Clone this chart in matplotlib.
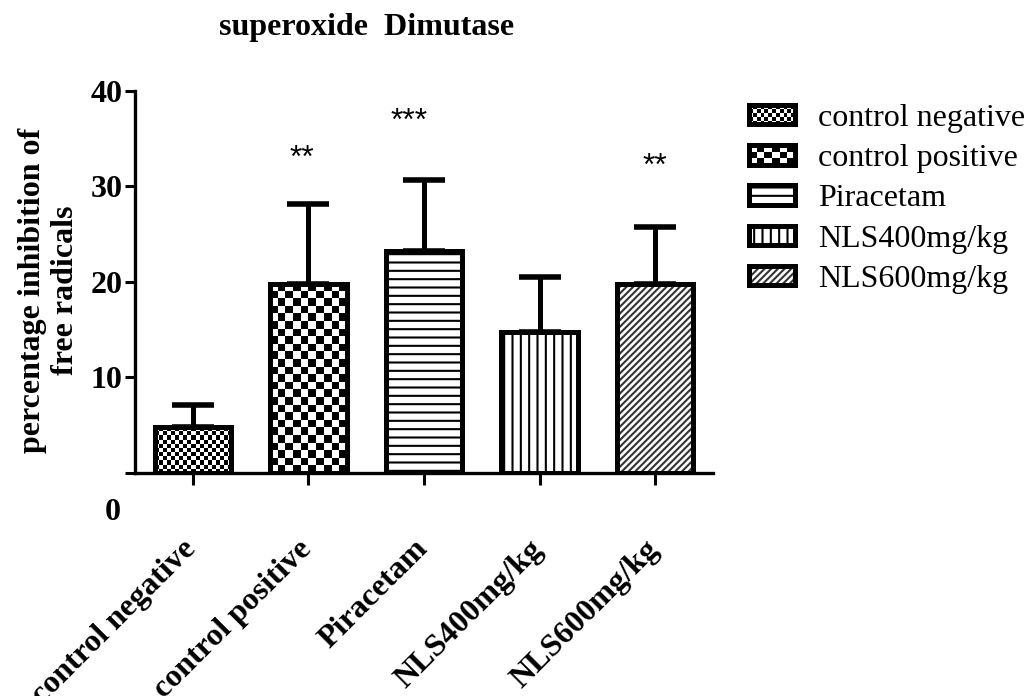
import matplotlib
matplotlib.use("Agg")
import matplotlib.pyplot as plt
import numpy as np
from matplotlib.patches import Rectangle
from matplotlib.legend_handler import HandlerBase
from matplotlib.transforms import ScaledTranslation

plt.rcParams['font.family'] = ['Liberation Serif', 'DejaVu Serif']
plt.rcParams['hatch.linewidth'] = 1.5

# data
groups = ["control negative", "control positive", "Piracetam", "NLS400mg/kg", "NLS600mg/kg"]
means = [4.8, 19.8, 23.2, 14.8, 19.8]
sem = [2.3, 8.3, 7.5, 5.7, 5.9]
stars = ["", "**", "***", "", "**"]
star_y = [0, 32.9, 36.7, 0, 32.0]
star_dx = [0, -0.06, -0.13, 0, 0.0]

# fill pattern per group: (kind, hatch, hatch colour, cell size px)
patterns = [("checker", None, None, 4.0),
            ("checker", None, None, 7.7),
            ("hatch", "--", "black", None),
            ("hatch", "||", "black", None),
            ("hatch", "/////", "#333333", None)]

LW = 3.6
W = 0.66


class PatternHandler(HandlerBase):
    def __init__(self, pat):
        super().__init__()
        self.pat = pat

    def create_artists(self, legend, orig_handle, xdescent, ydescent,
                       width, height, fontsize, trans):
        kind, hatch, hc, cell = self.pat
        x0, y0 = -xdescent, -ydescent
        arts = [Rectangle((x0, y0), width, height, facecolor='white',
                          edgecolor='none', transform=trans)]
        if kind == "checker":
            c = cell * 0.72
            nc = max(2, int(round(width / c)))
            nr = max(2, int(round(height / c)))
            cw, ch = width / nc, height / nr
            for i in range(nr):
                for j in range(nc):
                    if (i + j) % 2:
                        arts.append(Rectangle((x0 + j * cw, y0 + i * ch), cw, ch,
                                              facecolor='black', edgecolor='none',
                                              transform=trans))
        else:
            arts.append(Rectangle((x0, y0), width, height, facecolor='none',
                                  edgecolor=hc, linewidth=0, hatch=hatch,
                                  transform=trans))
        arts.append(Rectangle((x0, y0), width, height, facecolor='none',
                              edgecolor='black', linewidth=LW, transform=trans))
        return arts


fig = plt.figure(figsize=(10.28, 6.96), dpi=100)
ax = fig.add_axes([135 / 1028, 1 - 473 / 696, 578 / 1028, (473 - 90.7) / 696])
ax.set_xlim(-0.5, 4.5)
ax.set_ylim(0, 40)

x = np.arange(len(groups))
base = ax.bar(x, means, width=W, color='white', edgecolor='none', zorder=2)

for i, b in enumerate(base):
    kind, hatch, hc, cell = patterns[i]
    if kind == "checker":
        p0 = ax.transData.transform((x[i] - W / 2, 0))
        p1 = ax.transData.transform((x[i] + W / 2, means[i]))
        nc = int(round((p1[0] - p0[0]) / cell))
        nr = int(round((p1[1] - p0[1]) / cell))
        arr = np.add.outer(np.arange(nr), np.arange(nc)) % 2
        im = ax.imshow(arr, cmap='gray_r', extent=(x[i] - W / 2, x[i] + W / 2, 0, means[i]),
                       interpolation='nearest', aspect='auto', zorder=2.5)
        im.set_clip_path(b)
    else:
        ax.bar(x[i], means[i], width=W, facecolor='none', edgecolor=hc,
               linewidth=0, hatch=hatch, zorder=2.5)

ax.bar(x, means, width=W, facecolor='none', edgecolor='black', linewidth=LW, zorder=3)
ax.errorbar(x, means, yerr=[np.zeros(len(x)), sem], fmt='none', ecolor='black',
            elinewidth=LW, capsize=15, capthick=4, zorder=4)

ax.set_xlim(-0.5, 4.5)
ax.set_ylim(0, 40)

for i, s in enumerate(stars):
    if s:
        ax.text(x[i] + star_dx[i], star_y[i], s, ha='center', va='center',
                fontsize=23, family='Liberation Sans', clip_on=False)

for sp in ['top', 'right']:
    ax.spines[sp].set_visible(False)
for sp in ['left', 'bottom']:
    ax.spines[sp].set_linewidth(2.4)

ax.set_yticks([0, 10, 20, 30, 40])
ax.set_yticklabels(['', '10', '20', '30', '40'], fontsize=23, fontweight='bold')
ax.tick_params(axis='y', length=7, width=2.2, pad=2)
ax.tick_params(axis='x', length=8.5, width=2.2, pad=38)
ax.set_xticks(x)
ax.set_xticklabels(groups, rotation=45, ha='right', va='top', rotation_mode='anchor',
                   fontsize=23, fontweight='bold')
shift = ScaledTranslation(-11 / 100, 3 / 100, fig.dpi_scale_trans)
for lab in ax.get_xticklabels():
    lab.set_transform(lab.get_transform() + shift)

ax.annotate('0', xy=(0, 0), xycoords=('axes fraction', 'data'), xytext=(-14, -39),
            textcoords='offset pixels', ha='right', va='center', fontsize=23,
            fontweight='bold')

fig.text(367 / 1028, 1 - 28 / 696, 'superoxide  Dimutase', ha='center', va='center',
         fontsize=23, fontweight='bold')
fig.text(49 / 1028, 1 - 290 / 696, 'percentage inhibition of\nfree radicals',
         rotation=90, ha='center', va='center', fontsize=23, fontweight='bold',
         linespacing=1.15)

proxies = [Rectangle((0, 0), 1, 1) for _ in groups]
ax.legend(proxies, groups, handler_map={p: PatternHandler(patterns[i]) for i, p in enumerate(proxies)},
          loc='upper left', bbox_to_anchor=(749 / 1028, 1 - 104 / 696),
          bbox_transform=fig.transFigure, frameon=False, fontsize=23,
          borderpad=0, borderaxespad=0, handlelength=1.44, handleheight=0.56,
          handletextpad=0.72, labelspacing=0.35)

fig.savefig('out.png', dpi=100)
